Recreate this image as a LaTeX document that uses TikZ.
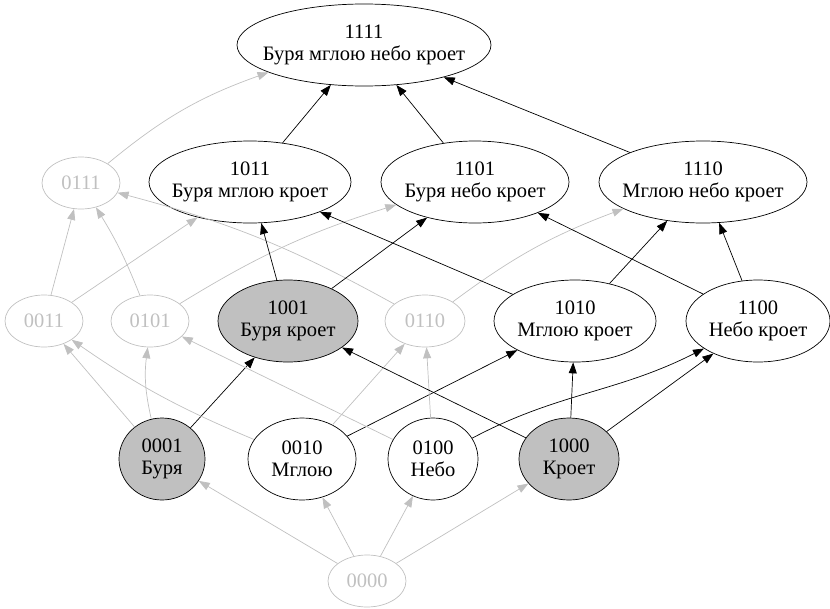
\documentclass[tikz,border=0pt]{standalone}
\usepackage{fontspec}
\setmainfont{Liberation Serif}
\usetikzlibrary{shapes.geometric,arrows.meta}
\definecolor{nodegray}{RGB}{192,192,192}
\definecolor{faint}{RGB}{192,192,192}
\newcommand\zb[1]{\makebox[0pt]{#1}}
\begin{document}
\begin{tikzpicture}[x=1pt,y=1pt,
  base/.style={ellipse,inner sep=0pt,align=center,font=\fontsize{20.5}{22.5}\selectfont,line width=0.7pt},
  big/.style={base,draw=black,minimum height=82pt},
  dim/.style={base,draw=faint,text=faint,minimum width=78pt,minimum height=52pt},
  hl/.style={fill=nodegray},
  edge/.style={line width=0.7pt,-{Triangle[length=11pt,width=8pt]}},
  dk/.style={edge,draw=black},
  lt/.style={edge,draw=faint},
]
\useasboundingbox (0,0) rectangle (830,-608);
% level 4
\node[big,minimum width=254pt] (n1111) at (364,-45) {\zb{1111}\\\zb{Буря мглою небо кроет}};
% level 3
\node[dim] (n0111) at (81,-183) {\zb{0111}};
\node[big,minimum width=202pt] (n1011) at (250,-182) {\zb{1011}\\\zb{Буря мглою кроет}};
\node[big,minimum width=188pt] (n1101) at (475,-182) {\zb{1101}\\\zb{Буря небо кроет}};
\node[big,minimum width=208pt] (n1110) at (703,-182) {\zb{1110}\\\zb{Мглою небо кроет}};
% level 2
\node[dim] (n0011) at (44,-321) {\zb{0011}};
\node[dim] (n0101) at (150,-321) {\zb{0101}};
\node[big,hl,minimum width=140pt] (n1001) at (288,-321) {\zb{1001}\\\zb{Буря кроет}};
\node[dim,minimum width=80pt] (n0110) at (425,-321) {\zb{0110}};
\node[big,minimum width=162pt] (n1010) at (575,-321) {\zb{1010}\\\zb{Мглою кроет}};
\node[big,minimum width=144pt] (n1100) at (758,-321) {\zb{1100}\\\zb{Небо кроет}};
% level 1
\node[big,hl,minimum width=86pt] (n0001) at (162,-459) {\zb{0001}\\\zb{Буря}};
\node[big,minimum width=108pt] (n0010) at (302,-459) {\zb{0010}\\\zb{Мглою}};
\node[big,minimum width=90pt] (n0100) at (433,-459) {\zb{0100}\\\zb{Небо}};
\node[big,hl,minimum width=100pt] (n1000) at (569,-459) {\zb{1000}\\\zb{Кроет}};
% level 0
\node[dim] (n0000) at (367,-581) {\zb{0000}};

% edges 0 -> 1
\draw[lt] (n0000) -- (n0001);
\draw[lt] (n0000) -- (n0010);
\draw[lt] (n0000) -- (n0100);
\draw[lt] (n0000) -- (n1000);
% edges 1 -> 2
\draw[lt] (n0001) -- (n0011);
\draw[lt] (n0001) to[bend left=10] (n0101);
\draw[dk] (n0001) -- (n1001);
\draw[lt] (n0010) to[bend left=6] (n0011);
\draw[lt] (n0010) -- (n0110);
\draw[dk] (n0010) -- (n1010);
\draw[lt] (n0100) -- (n0101);
\draw[lt] (n0100) -- (n0110);
\draw[dk] (n0100) to[out=28,in=207] (n1100);
\draw[dk] (n1000) -- (n1001);
\draw[dk] (n1000) -- (n1010);
\draw[dk] (n1000) -- (n1100);
% edges 2 -> 3
\draw[lt] (n0011) -- (n0111);
\draw[lt] (n0011) -- (n1011);
\draw[lt] (n0101) to[bend right=5] (n0111);
\draw[lt] (n0101) to[bend left=7] (n1101);
\draw[lt] (n0110) to[bend right=7] (n0111);
\draw[lt] (n0110) to[bend left=8] (n1110);
\draw[dk] (n1001) -- (n1011);
\draw[dk] (n1001) -- (n1101);
\draw[dk] (n1010) -- (n1011);
\draw[dk] (n1010) -- (n1110);
\draw[dk] (n1100) -- (n1101);
\draw[dk] (n1100) -- (n1110);
% edges 3 -> 4
\draw[lt] (n0111) to[bend left=10] (n1111);
\draw[dk] (n1011) -- (n1111);
\draw[dk] (n1101) -- (n1111);
\draw[dk] (n1110) -- (n1111);
\end{tikzpicture}
\end{document}
